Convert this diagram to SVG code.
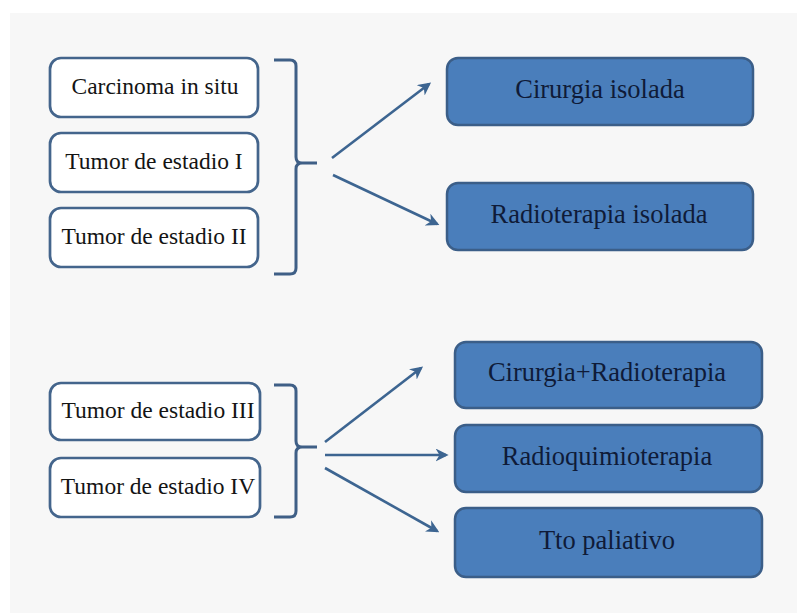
<svg xmlns="http://www.w3.org/2000/svg" width="797" height="613" viewBox="0 0 797 613">
  <style>
    .stage { fill: #ffffff; stroke: #44658c; stroke-width: 2.7; }
    .stage-text { font-family: "Liberation Serif", "Times New Roman", serif; font-size: 23.5px; fill: #141414; text-anchor: middle; }
    .treat { fill: #4a7ebb; stroke: #3b5e88; stroke-width: 2.5; }
    .treat-text { font-family: "Liberation Serif", "Times New Roman", serif; font-size: 26.5px; fill: #0f1b38; text-anchor: middle; }
    .brace { fill: none; stroke: #3f5f86; stroke-width: 3; stroke-linejoin: round; }
    .arrow { fill: none; stroke: #3d6591; stroke-width: 2.6; marker-end: url(#head); }
  </style>
  <defs>
    <marker id="head" viewBox="0 0 10 10" refX="8" refY="5" markerWidth="5" markerHeight="5" orient="auto" markerUnits="strokeWidth">
      <path d="M0,0 L10,5 L0,10 L3,5 Z" fill="#3d6591"/>
    </marker>
  </defs>

  <!-- page background -->
  <rect x="0" y="0" width="797" height="613" fill="#ffffff"/>
  <rect x="10" y="13" width="787" height="600" fill="#f7f7f7"/>

  <!-- early stages -->
  <g id="carcinoma-in-situ">
    <rect class="stage" x="50" y="58" width="208" height="59" rx="11"/>
    <text class="stage-text" x="155" y="93.5">Carcinoma in situ</text>
  </g>
  <g id="estadio-i">
    <rect class="stage" x="50" y="133" width="208" height="59" rx="11"/>
    <text class="stage-text" x="154" y="168.5">Tumor de estadio I</text>
  </g>
  <g id="estadio-ii">
    <rect class="stage" x="50" y="208" width="208" height="59" rx="11"/>
    <text class="stage-text" x="154" y="243.5">Tumor de estadio II</text>
  </g>

  <!-- advanced stages -->
  <g id="estadio-iii">
    <rect class="stage" x="50" y="383" width="210" height="57" rx="11"/>
    <text class="stage-text" x="158" y="417.5">Tumor de estadio III</text>
  </g>
  <g id="estadio-iv">
    <rect class="stage" x="50" y="458" width="210" height="59" rx="11"/>
    <text class="stage-text" x="158" y="493.5">Tumor de estadio IV</text>
  </g>

  <!-- treatments -->
  <g id="cirurgia-isolada">
    <rect class="treat" x="447" y="58" width="306" height="67" rx="11"/>
    <text class="treat-text" x="600" y="97.5">Cirurgia isolada</text>
  </g>
  <g id="radioterapia-isolada">
    <rect class="treat" x="447" y="183" width="306" height="67" rx="11"/>
    <text class="treat-text" x="599" y="222.5">Radioterapia isolada</text>
  </g>
  <g id="cirurgia-radioterapia">
    <rect class="treat" x="455" y="342" width="307" height="66" rx="11"/>
    <text class="treat-text" x="607" y="381">Cirurgia+Radioterapia</text>
  </g>
  <g id="radioquimioterapia">
    <rect class="treat" x="455" y="425" width="307" height="67" rx="11"/>
    <text class="treat-text" x="607" y="464.5">Radioquimioterapia</text>
  </g>
  <g id="tto-paliativo">
    <rect class="treat" x="455" y="508" width="307" height="69" rx="11"/>
    <text class="treat-text" x="607" y="548.5">Tto paliativo</text>
  </g>

  <!-- braces and arrows -->
  <g id="connectors">
    <path class="brace" d="M274,60 H290 Q296,60 296,66 V157 Q296,163 302,163 H317 M302,163 Q296,163 296,169 V268 Q296,274 290,274 H274"/>
    <path class="brace" d="M274,385 H290 Q296,385 296,391 V441 Q296,447 302,447 H317 M302,447 Q296,447 296,453 V511 Q296,517 290,517 H274"/>

    <line class="arrow" x1="332" y1="158" x2="429" y2="84"/>
    <line class="arrow" x1="333" y1="175" x2="437" y2="224"/>

    <line class="arrow" x1="325" y1="442" x2="421" y2="368"/>
    <line class="arrow" x1="325" y1="455" x2="446" y2="455"/>
    <line class="arrow" x1="325" y1="468" x2="437" y2="531"/>
  </g>
</svg>
